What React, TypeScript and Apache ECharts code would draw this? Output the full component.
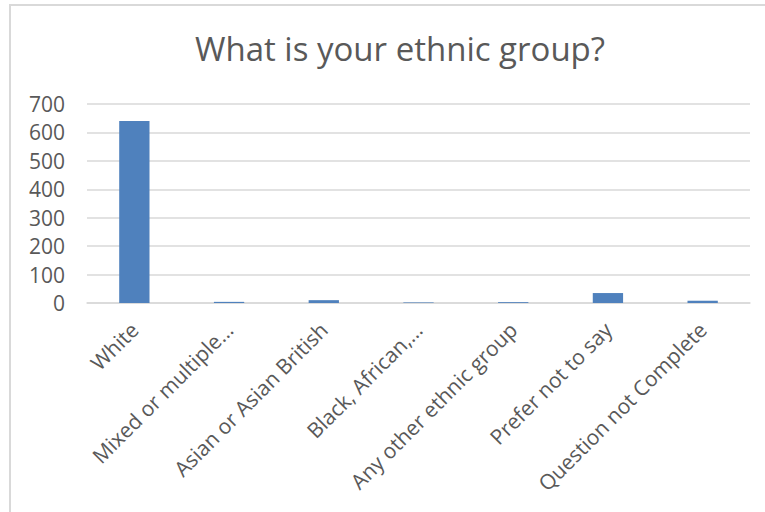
import React, { useEffect, useRef } from "react";
import * as echarts from "echarts";

const titleText = "What is your ethnic group?";
const categories = [
  "White",
  "Mixed or multiple…",
  "Asian or Asian British",
  "Black, African,…",
  "Any other ethnic group",
  "Prefer not to say",
  "Question not Complete",
];
const counts = [640, 4, 10, 2, 3, 35, 8];
const yTicks = { min: 0, max: 700, interval: 100 };

export default function App() {
  const ref = useRef<HTMLDivElement>(null);
  useEffect(() => {
    if (!ref.current) return;
    const chart = echarts.init(ref.current, undefined, { renderer: "svg" });
    const font = "'Open Sans', 'Liberation Sans', sans-serif";
    chart.setOption({
      animation: false,
      backgroundColor: "#ffffff",
      title: {
        text: titleText,
        left: 395,
        textAlign: "center",
        top: 27,
        textStyle: { color: "#595959", fontSize: 33, fontWeight: "normal", fontFamily: font },
      },
      graphic: [
        {
          type: "rect",
          shape: { x: 10, y: 5, width: 800, height: 600 },
          style: { fill: "none", stroke: "#d9d9d9", lineWidth: 2 },
          silent: true,
        },
      ],
      grid: { left: 87, right: 15, top: 104, bottom: 209, containLabel: false },
      xAxis: {
        type: "category",
        data: categories,
        axisLine: { show: true, lineStyle: { color: "#d9d9d9", width: 1.5 } },
        axisTick: { show: false },
        axisLabel: {
          rotate: 45,
          interval: 0,
          margin: 23,
          color: "#595959",
          fontSize: 21,
          fontFamily: font,
        },
      },
      yAxis: {
        type: "value",
        min: yTicks.min,
        max: yTicks.max,
        interval: yTicks.interval,
        axisLine: { show: false },
        axisTick: { show: false },
        splitLine: { lineStyle: { color: "#d9d9d9", width: 1.5 } },
        axisLabel: { color: "#595959", fontSize: 21, fontFamily: font, margin: 22 },
      },
      series: [
        {
          type: "bar",
          data: counts,
          barCategoryGap: "68%",
          itemStyle: { color: "#4f81bd" },
        },
      ],
    });
    return () => chart.dispose();
  }, []);
  return (
    <div
      ref={ref}
      style={{ position: "fixed", left: 0, top: 0, width: 765, height: 512 }}
    />
  );
}
